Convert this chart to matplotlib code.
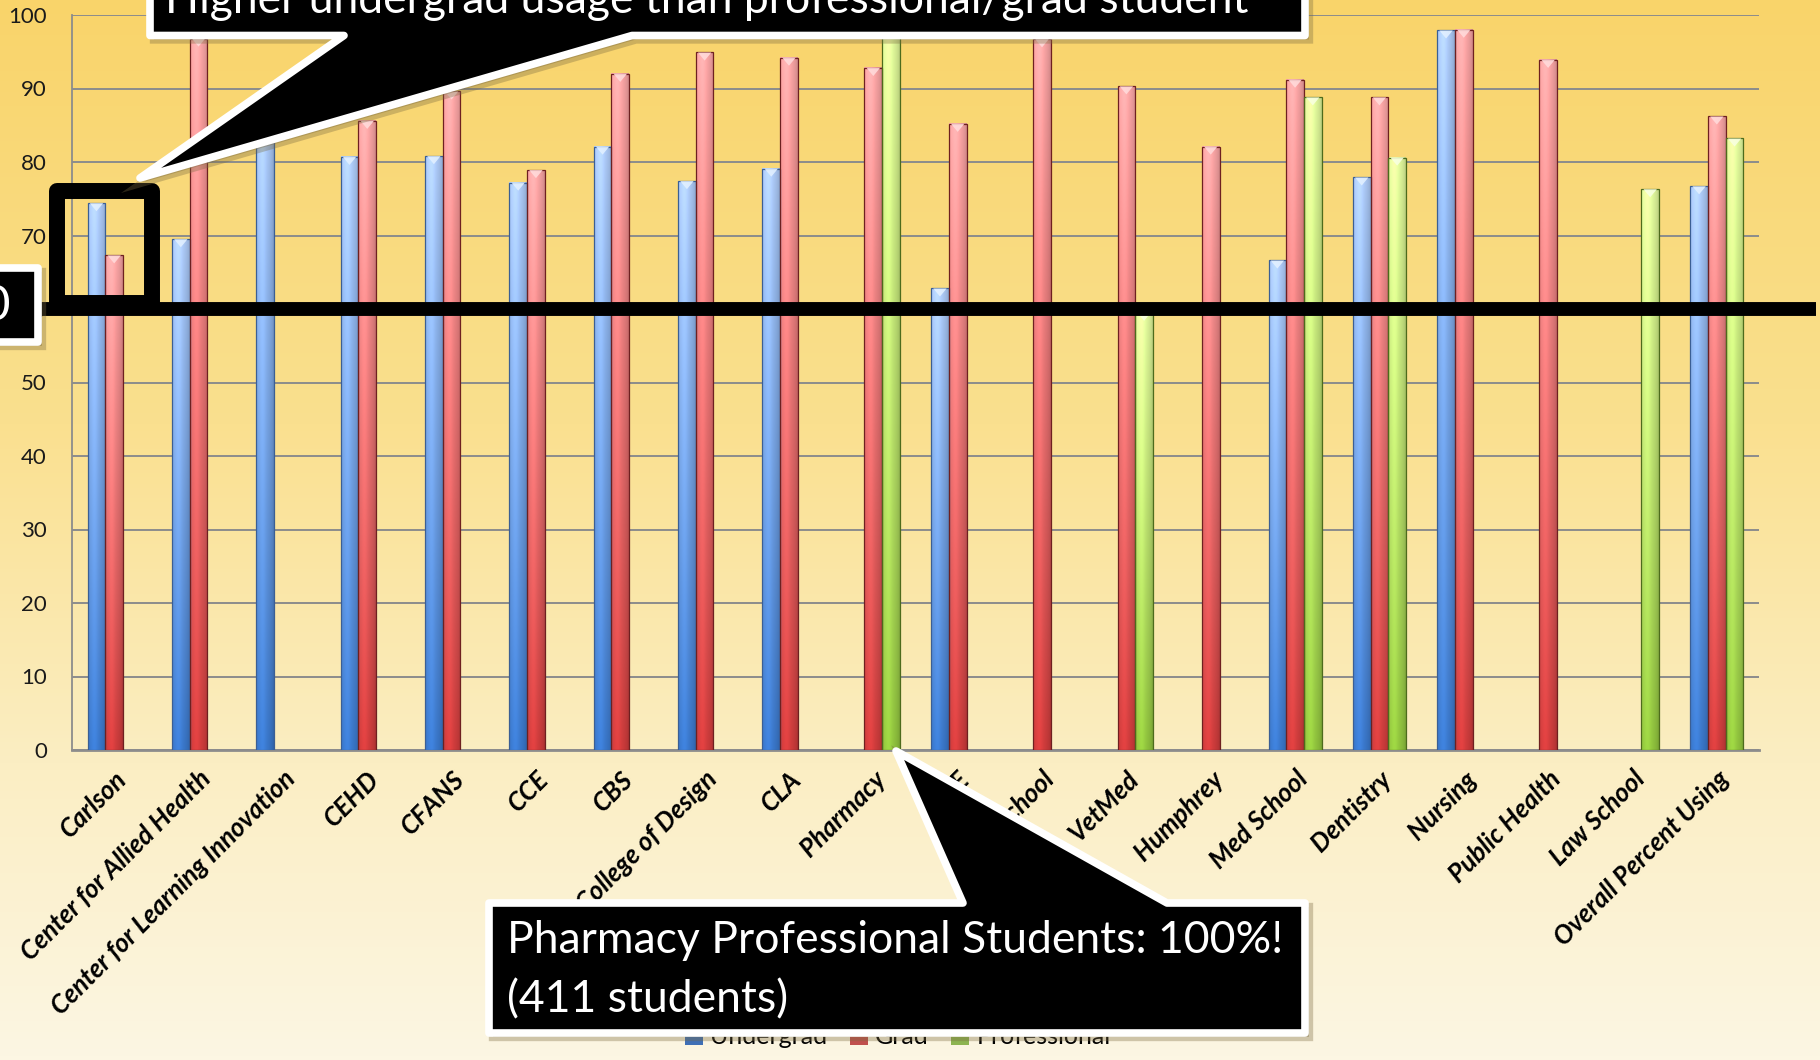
import numpy as np
import matplotlib.pyplot as plt
from matplotlib.patches import Rectangle, Polygon
from matplotlib.lines import Line2D
from matplotlib import transforms
from matplotlib.colors import to_rgb

plt.rcParams['font.family'] = ['Lato', 'DejaVu Sans']

W, H = 1820, 1060
nan = np.nan

# --- DATA ---
colleges = ['Carlson', 'Center for Allied Health', 'Center for Learning Innovation', 'CEHD',
            'CFANS', 'CCE', 'CBS', 'College of Design', 'CLA', 'Pharmacy', 'CSE',
            'Grad School', 'VetMed', 'Humphrey', 'Med School', 'Dentistry', 'Nursing',
            'Public Health', 'Law School', 'Overall Percent Using']
undergrad = [74.4, 69.5, 86.0, 80.7, 80.8, 77.2, 82.1, 77.4, 79.1, nan,
             62.8, nan, nan, nan, 66.6, 77.9, 97.9, nan, nan, 76.7]
grad = [67.3, 96.8, nan, 85.6, 89.6, 78.9, 92.0, 94.9, 94.2, 92.8,
        85.2, 96.7, 90.3, 82.1, 91.2, 88.8, 98.0, 93.9, nan, 86.2]
professional = [nan, nan, nan, nan, nan, nan, nan, nan, nan, 100.0,
                nan, nan, 59.5, nan, 88.8, 80.6, nan, nan, 76.3, 83.2]
series_names = ['Undergrad', 'Grad', 'Professional']
CUTOFF = 60

top_note = 'Higher undergrad usage than professional/grad student'
pharm_note = ['Pharmacy Professional Students: 100%!', '(411 students)']

# bar fill: (top colour, bottom colour, tip colour, edge colour, legend colour)
STYLES = [('#AECBF8', '#3A78CC', '#E2F0FF', '#3B5F94', '#3F6FB5'),
          ('#FBA6A6', '#D03C3C', '#FFDADA', '#6E2020', '#C0504D'),
          ('#E4FB9E', '#92C63E', '#F8FFE0', '#4D6B1C', '#8DB450')]
BAR_W = 0.21


def px(x, y):
    """pixel position (from top-left) -> figure fraction"""
    return (x / W, 1 - y / H)


def bar_image(top, bottom, n=64):
    t = np.linspace(0, 1, n)[:, None, None]
    img = (1 - t) * np.array(to_rgb(top)) + t * np.array(to_rgb(bottom))
    xs = np.linspace(0, 1, 16)
    shade = 1.0 + 0.10 * np.exp(-((xs - 0.35) / 0.22) ** 2) - 0.16 * xs ** 4
    img = img * shade[None, :, None]
    return np.clip(img, 0, 1)


fig = plt.figure(figsize=(W / 100, H / 100), dpi=100)

# page background gradient
bg = fig.add_axes([0, 0, 1, 1], zorder=-10)
bg.axis('off')
stops = np.array([0.0, 0.4, 0.72, 1.0])
cols = np.array([to_rgb(c) for c in ['#F9D46A', '#FAE08F', '#FBEEC3', '#FCF6E3']])
rows = np.linspace(0, 1, 300)
grad_img = np.stack([np.interp(rows, stops, cols[:, k]) for k in range(3)], axis=1)[:, None, :]
bg.imshow(grad_img, aspect='auto', extent=(0, 1, 0, 1))

ax = fig.add_axes([72 / W, 1 - 750 / H, (1759 - 72) / W, (750 - 15) / H])
ax.set_facecolor('none')
ax.set_autoscale_on(False)
ax.set_xlim(0, len(colleges))
ax.set_ylim(0, 100)

for s, values in enumerate([undergrad, grad, professional]):
    top, bottom, tip, edge, _ = STYLES[s]
    img = bar_image(top, bottom)
    off = (s - 1) * BAR_W
    for i, v in enumerate(values):
        if np.isnan(v):
            continue
        x0 = i + 0.5 + off - BAR_W / 2
        ax.imshow(img, extent=(x0, x0 + BAR_W, 0, v), aspect='auto',
                  interpolation='bilinear', zorder=3)
        ax.add_patch(Rectangle((x0, 0), BAR_W, v, fill=False, ec=edge, lw=0.9, zorder=4))
        ax.add_patch(Polygon([(x0 + 0.12 * BAR_W, v), (x0 + 0.88 * BAR_W, v),
                              (x0 + 0.5 * BAR_W, v - 1.1)], closed=True,
                             fc=tip, ec='none', alpha=0.9, zorder=5))

ax.set_yticks(range(0, 101, 10))
ax.yaxis.grid(True, color='#8C8C8C', lw=1.4)
ax.set_axisbelow(True)
for side in ['top', 'right']:
    ax.spines[side].set_visible(False)
ax.spines['left'].set_color('#8C8C8C')
ax.spines['left'].set_linewidth(1.3)
ax.spines['bottom'].set_color('#8C8C8C')
ax.spines['bottom'].set_linewidth(2)
ax.tick_params(axis='y', length=0, pad=18, labelsize=16, labelcolor='#1A1A1A')
ax.set_xticks(np.arange(len(colleges)) + 0.5)
ax.set_xticklabels(colleges, rotation=45, ha='right', rotation_mode='anchor',
                   fontstyle='italic', fontweight='bold', fontsize=18.5)
ax.tick_params(axis='x', length=0, pad=12)

# legend (sits behind the pharmacy note)
handles = [Rectangle((0, 0), 1, 1, fc=st[4]) for st in STYLES]
fig.legend(handles, series_names, loc='center', bbox_to_anchor=px(898, 1037), ncol=3,
           frameon=False, fontsize=18, handlelength=0.7, handleheight=0.7,
           handletextpad=0.3, columnspacing=0.9)

# cutoff line across the chart
blend = transforms.blended_transform_factory(fig.transFigure, ax.transData)
fig.add_artist(Line2D([38 / W, 1816 / W], [CUTOFF, CUTOFF], transform=blend,
                      color='black', lw=10, solid_capstyle='butt', zorder=8))

# box round the Carlson pair
x0, y0 = px(56.5, 303)
x1, y1 = px(151.5, 191)
fig.add_artist(Rectangle((x0, y0), x1 - x0, y1 - y0, transform=fig.transFigure,
                         fill=False, ec='black', lw=11.5, joinstyle='round', zorder=9))


def callout(points, z):
    shadow = Polygon([px(x + 4, y + 4) for x, y in points], closed=True,
                     transform=fig.transFigure, fc='#7A6A40', ec='#7A6A40', lw=6,
                     alpha=0.35, zorder=z - 1)
    box = Polygon([px(x, y) for x, y in points], closed=True, transform=fig.transFigure,
                  fc='black', ec='white', lw=5.5, joinstyle='round', zorder=z)
    fig.add_artist(shadow)
    fig.add_artist(box)


# cutoff value label, partly off the left edge
callout([(-60, 268), (38, 268), (38, 342), (-60, 342)], 10)
fig.text(*px(11, 320), str(CUTOFF), color='white', fontsize=35, ha='right',
         va='baseline', zorder=12)

callout([(150, -40), (1305, -40), (1305, 35.5), (632, 35.5), (140, 178),
         (344, 35.5), (150, 35.5)], 10)
fig.text(*px(165, 13), top_note, color='white', fontsize=32, ha='left',
         va='baseline', zorder=12)

callout([(489, 903), (963, 903), (896, 751), (1167, 903), (1305, 903),
         (1305, 1033), (489, 1033)], 10)
fig.text(*px(507, 953), pharm_note[0], color='white', fontsize=32, ha='left',
         va='baseline', zorder=12)
fig.text(*px(507, 1012), pharm_note[1], color='white', fontsize=32, ha='left',
         va='baseline', zorder=12)

fig.savefig('out.png', dpi=100)
